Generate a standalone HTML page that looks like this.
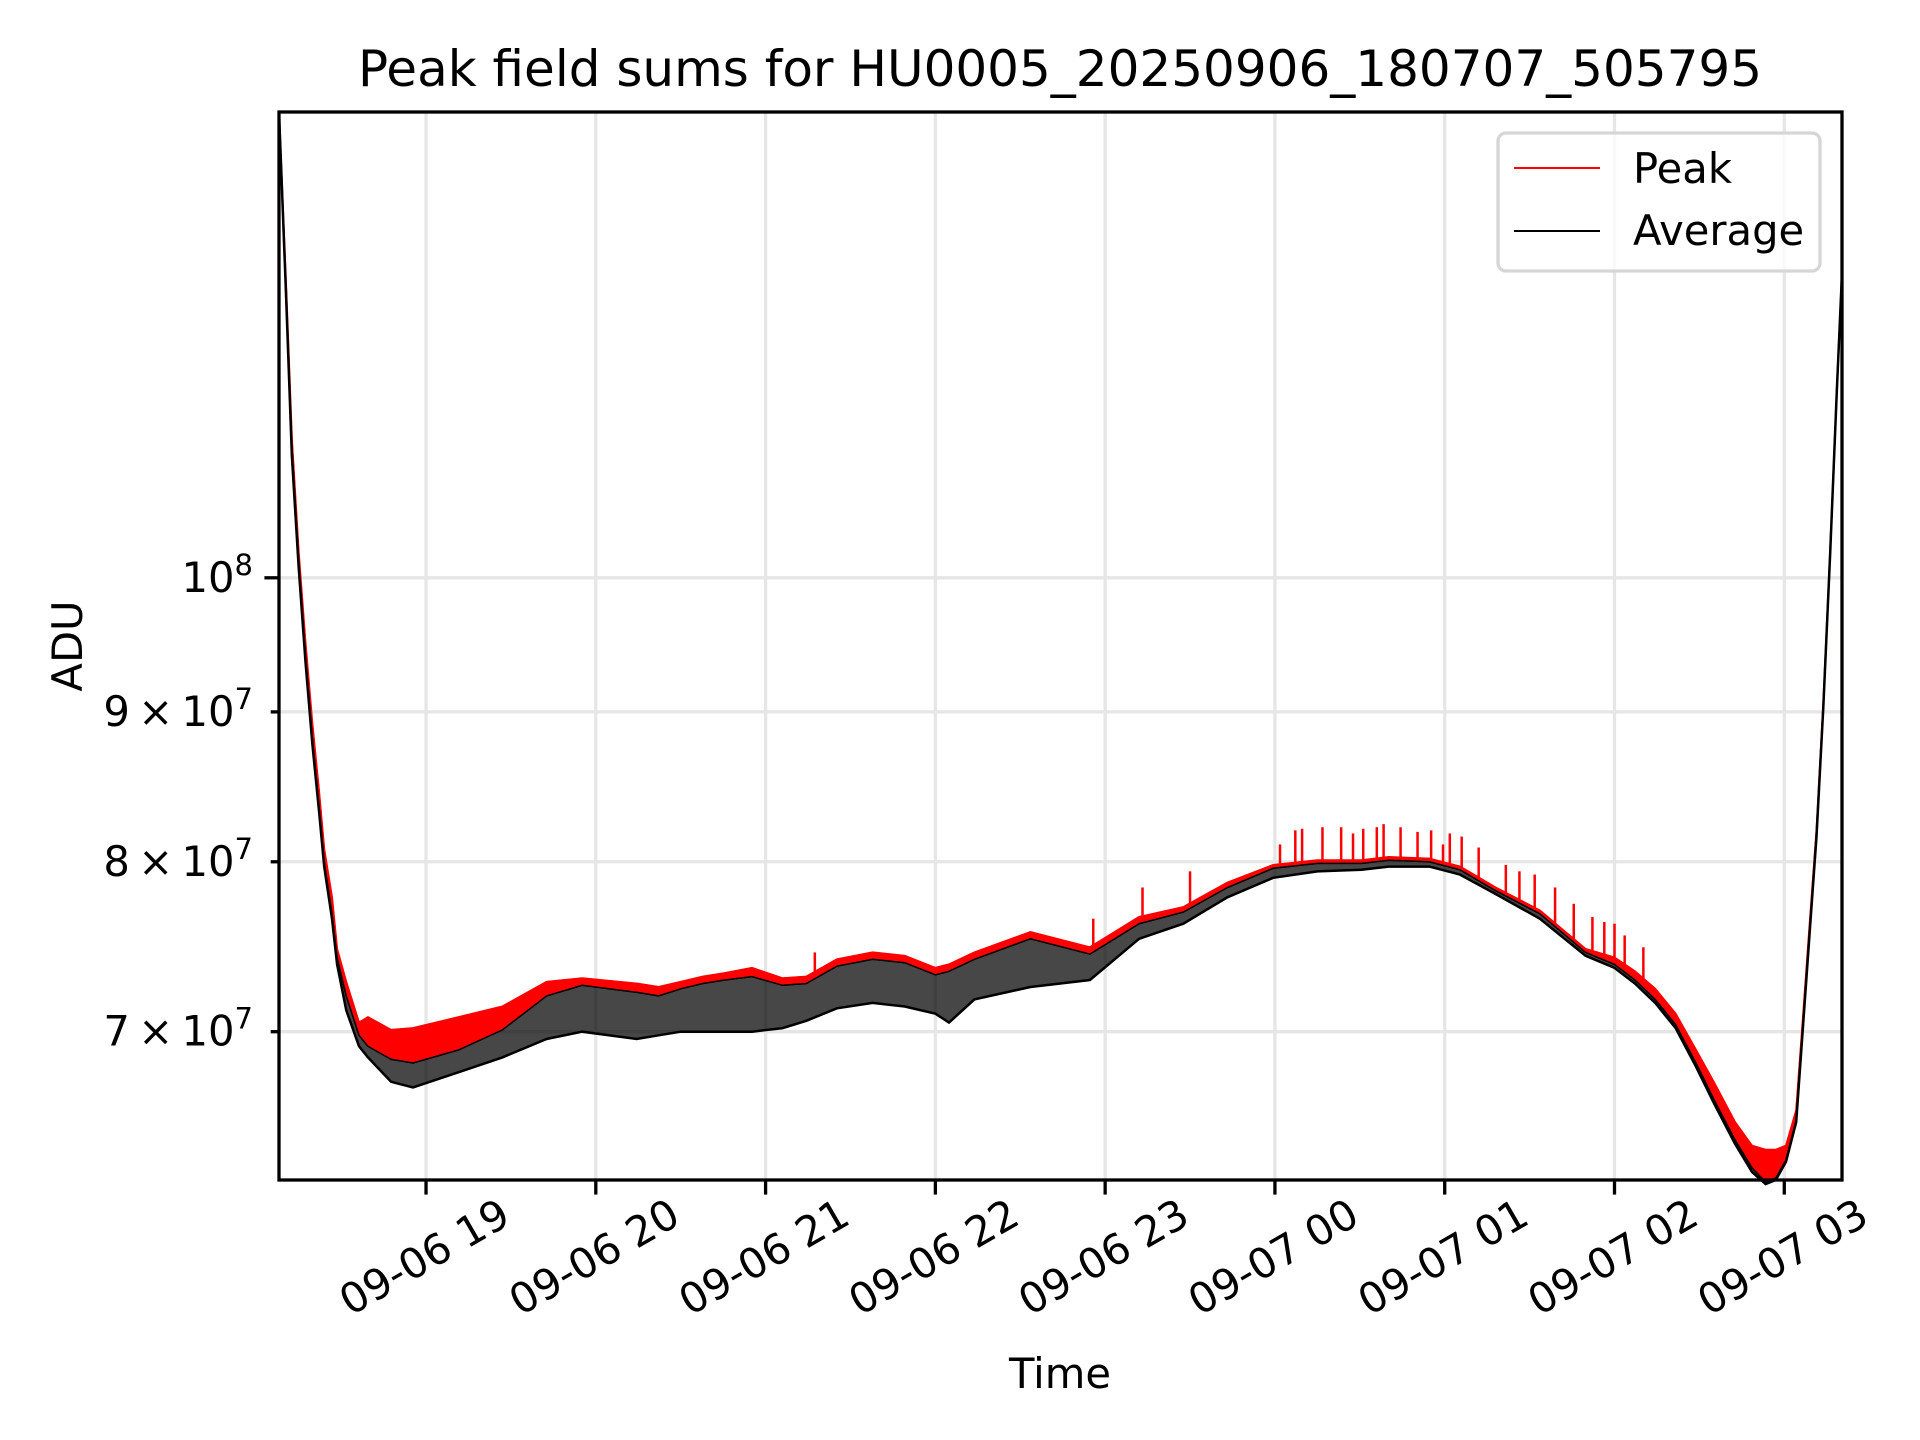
<!DOCTYPE html>
<html><head><meta charset="utf-8"><style>
html,body{margin:0;padding:0;background:#fff;}
svg{display:block;font-family:"DejaVu Sans","Liberation Sans",sans-serif;}
</style></head><body>
<svg id="chart" width="1920" height="1440" viewBox="0 0 1920 1440" xmlns="http://www.w3.org/2000/svg">
<rect x="0" y="0" width="1920" height="1440" fill="#fff"/>
<g id="grid"></g>
<g id="series"></g>
<g id="axes"></g>
<text x="1060" y="86" font-size="50" text-anchor="middle">Peak field sums for HU0005_20250906_180707_505795</text>
<text x="1060" y="1388" font-size="41.7" text-anchor="middle">Time</text>
<text transform="translate(82,646) rotate(-90)" font-size="41.7" text-anchor="middle">ADU</text>
<g>
<rect x="1498" y="133" width="322" height="138" rx="8" fill="#fff" fill-opacity="0.8" stroke="#d6d6d6" stroke-width="3.3"/>
<line x1="1514" y1="168" x2="1600" y2="168" stroke="#ff0000" stroke-width="2"/>
<text x="1633" y="183" font-size="41.7">Peak</text>
<line x1="1514" y1="231" x2="1600" y2="231" stroke="#000" stroke-width="2"/>
<text x="1633" y="245" font-size="41.7">Average</text>
</g>
</svg>
<script>
// time in hours since 09-06 18:00, values in units of 1e7 ADU
const times   = [0.134,0.175,0.21,0.25,0.29,0.33,0.37,0.40,0.446,0.476,0.53,0.605,0.658,0.794,0.923,1.19,1.45,1.71,1.92,2.24,2.37,2.50,2.63,2.76,2.92,3.10,3.24,3.42,3.63,3.82,4.00,4.08,4.23,4.56,4.91,5.20,5.46,5.72,5.99,6.25,6.51,6.67,6.91,7.09,7.30,7.56,7.83,8.00,8.12,8.24,8.36,8.48,8.59,8.71,8.81,8.89,8.95,9.01,9.07,9.11,9.15,9.19,9.23,9.27,9.31,9.34];
const peak    = [14.42,12.6,11.15,10.2,9.5,8.92,8.45,8.08,7.78,7.47,7.28,7.05,7.08,7.01,7.02,7.08,7.14,7.28,7.30,7.27,7.25,7.28,7.31,7.33,7.36,7.30,7.31,7.41,7.45,7.43,7.36,7.38,7.45,7.57,7.48,7.66,7.72,7.87,7.98,8.01,8.01,8.03,8.02,7.97,7.84,7.70,7.47,7.42,7.34,7.24,7.10,6.90,6.72,6.52,6.40,6.38,6.38,6.40,6.58,7.08,7.62,8.2,9.06,10.2,11.6,12.7];
const avgHigh = [14.42,12.55,11.08,10.13,9.41,8.82,8.35,8.0,7.68,7.42,7.2,6.98,6.92,6.85,6.83,6.90,7.01,7.20,7.26,7.22,7.2,7.24,7.27,7.29,7.31,7.26,7.27,7.37,7.41,7.39,7.32,7.34,7.41,7.53,7.44,7.62,7.69,7.84,7.96,7.99,7.99,8.01,8.00,7.95,7.82,7.68,7.45,7.38,7.29,7.18,7.04,6.83,6.63,6.43,6.29,6.22,6.24,6.33,6.53,7.04,7.58,8.17,9.04,10.19,11.6,12.7];
const avgLow  = [14.42,12.5,11.0,10.08,9.36,8.78,8.32,7.97,7.65,7.38,7.12,6.92,6.86,6.73,6.70,6.78,6.86,6.96,7.00,6.96,6.98,7.00,7.00,7.00,7.00,7.02,7.06,7.13,7.16,7.14,7.10,7.05,7.18,7.25,7.29,7.53,7.62,7.78,7.90,7.94,7.95,7.97,7.97,7.92,7.80,7.65,7.43,7.36,7.27,7.16,7.02,6.81,6.61,6.41,6.27,6.21,6.23,6.32,6.52,7.03,7.57,8.16,9.03,10.18,11.6,12.7];
const spikeTimes  = [3.29,4.93,5.22,5.50,6.03,6.12,6.16,6.28,6.39,6.46,6.52,6.60,6.64,6.74,6.84,6.92,6.99,7.03,7.10,7.20,7.36,7.44,7.53,7.65,7.76,7.87,7.94,8.00,8.06,8.17];
const spikeValues = [7.45,7.65,7.84,7.94,8.11,8.20,8.21,8.22,8.22,8.18,8.21,8.22,8.24,8.22,8.19,8.20,8.11,8.18,8.16,8.09,7.98,7.94,7.92,7.84,7.74,7.66,7.63,7.62,7.55,7.48];
const xTickHours  = [1,2,3,4,5,6,7,8,9];
const xTickLabels = ["09-06 19","09-06 20","09-06 21","09-06 22","09-06 23","09-07 00","09-07 01","09-07 02","09-07 03"];
const yMajorTicks = [10];
const yMajorLabels = ["10","8"];
const yMinorTicks = [9,8,7];
const yMinorLabels = ["9","8","7"];

const L=279,R=1842,T=112,B=1180;
const hMin=0.134,hMax=9.34;
const vMin=6.23,vMax=14.42;
const xs=h=>L+(h-hMin)/(hMax-hMin)*(R-L);
const ys=v=>B-(Math.log(v)-Math.log(vMin))/(Math.log(vMax)-Math.log(vMin))*(B-T);
const NS="http://www.w3.org/2000/svg";
function mk(tag,attrs,parent){const e=document.createElementNS(NS,tag);for(const k in attrs)e.setAttribute(k,attrs[k]);parent.appendChild(e);return e;}
const grid=document.getElementById('grid'),series=document.getElementById('series'),axes=document.getElementById('axes');

xTickHours.forEach((h,i)=>{
  const x=xs(h);
  const g=mk('line',{x1:x,y1:T,x2:x,y2:B,stroke:'#e6e6e6','stroke-width':3.3},grid);
  
  
  const t=mk('line',{x1:x,y1:B,x2:x,y2:B+14.6,stroke:'#000','stroke-width':3.3},axes);
  
  
  const lb=mk('text',{transform:`translate(${x},${B+80}) rotate(-30)`,'font-size':41.7,'text-anchor':'middle','dominant-baseline':'middle'},axes);
  lb.textContent=xTickLabels[i];
  
  
});
function yTick(v,len,label,sup,isMajor){
  const y=ys(v);
  const g=mk('line',{x1:L,y1:y,x2:R,y2:y,stroke:'#e6e6e6','stroke-width':3.3},grid);
  
  
  const t=mk('line',{x1:L-len,y1:y,x2:L,y2:y,stroke:'#000','stroke-width':3.3},axes);
  
  
  const tx=mk('text',{x:L-26,y:y+14,'font-size':41.7,'text-anchor':'end'},axes);
  
  
  if(isMajor){
    const a=mk('tspan',{},tx);a.textContent=label;
    const b=mk('tspan',{'font-size':29,dy:-17},tx);b.textContent=sup;
  } else {
    const a=mk('tspan',{},tx);a.textContent=label+'\u2009\u00d7\u200910';
    const b=mk('tspan',{'font-size':29,dy:-17},tx);b.textContent='7';
  }
}
yMajorTicks.forEach((v)=>yTick(v,14.6,yMajorLabels[0],yMajorLabels[1],true));
yMinorTicks.forEach((v,i)=>yTick(v,8.3,yMinorLabels[i],'',false));

function pts(arr){return times.map((h,i)=>xs(h).toFixed(1)+','+ys(arr[i]).toFixed(1));}
function band(top,bot){const a=pts(top),b=pts(bot).reverse();return 'M'+a.join('L')+'L'+b.join('L')+'Z';}
function interp(arr,h){for(let i=0;i<times.length-1;i++){if(h>=times[i]&&h<=times[i+1]){const f=(h-times[i])/(times[i+1]-times[i]);return arr[i]+f*(arr[i+1]-arr[i]);}}return arr[arr.length-1];}

const redBand=mk('path',{d:band(peak,avgHigh),fill:'#ff0000',stroke:'#ff0000','stroke-width':1.5},series);


spikeTimes.forEach((h,i)=>{
  const x=xs(h);
  const s=mk('line',{x1:x,y1:ys(interp(avgHigh,h)),x2:x,y2:ys(spikeValues[i]),stroke:'#ff0000','stroke-width':2.5},series);
  
  
});
const peakLine=mk('polyline',{points:pts(peak).join(' '),fill:'none',stroke:'#ff0000','stroke-width':2},series);


const blackBand=mk('path',{d:band(avgHigh,avgLow),fill:'#000','fill-opacity':0.72,stroke:'none'},series);


const avgLine=mk('polyline',{points:pts(avgLow).join(' '),fill:'none',stroke:'#000','stroke-width':2.5},series);


const avgTop=mk('polyline',{points:pts(avgHigh).join(' '),fill:'none',stroke:'#000','stroke-width':1.5},series);



const frame=mk('rect',{x:L,y:T,width:R-L,height:B-T,fill:'none',stroke:'#000','stroke-width':3.3},axes);


</script>
</body></html>
